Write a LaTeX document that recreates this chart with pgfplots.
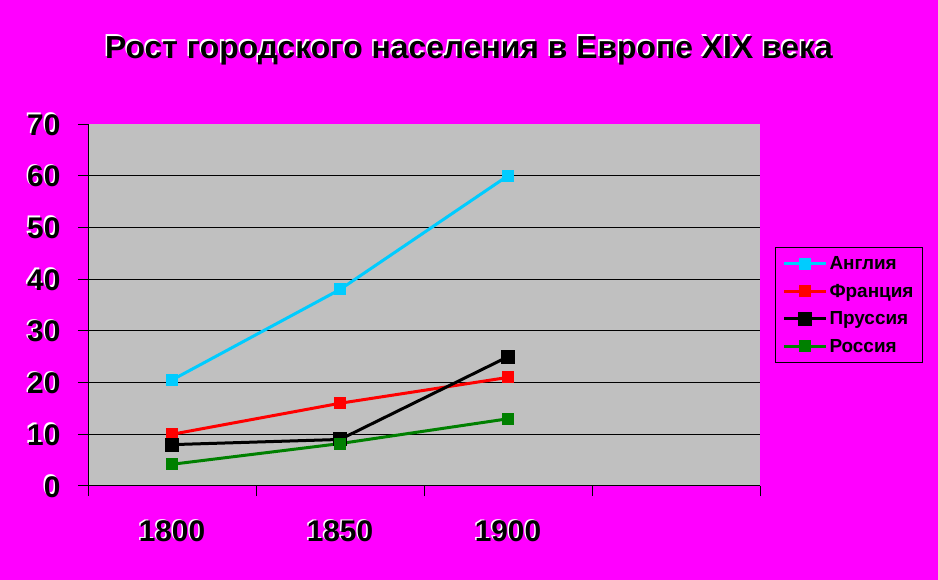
\documentclass[border=0pt]{standalone}
\usepackage{pgfplots}
\pgfplotsset{compat=1.18}
\usepackage{fontspec}
\setmainfont{Liberation Sans}
\definecolor{bg}{HTML}{FF00FF}
\definecolor{plotbg}{HTML}{C0C0C0}
\definecolor{cyanl}{HTML}{00CCFF}
\definecolor{greenl}{HTML}{008000}
\newcommand{\shd}[1]{\leavevmode\rlap{\kern-1.5bp\raisebox{1.5bp}{\color{white}#1}}#1}
\begin{document}
\begin{tikzpicture}
\fill[bg] (0,0) rectangle (938bp,580bp);
\path[use as bounding box] (0,0) rectangle (938bp,580bp);
\node[font=\fontsize{32}{36}\selectfont\bfseries] at (469bp,530bp) {\shd{Рост городского населения в Европе XIX века}};
\begin{axis}[
  at={(88bp,94bp)}, anchor=south west,
  scale only axis, width=672bp, height=362bp,
  xmin=0, xmax=4, ymin=0, ymax=70,
  axis lines*=left,
  axis line style={black, line width=1bp},
  axis background/.style={fill=plotbg},
  ytick={0,10,...,70},
  yticklabels={\shd{0},\shd{10},\shd{20},\shd{30},\shd{40},\shd{50},\shd{60},\shd{70}},
  extra y ticks={10,20,...,60},
  extra y tick labels={},
  extra y tick style={grid=major, major tick length=0pt},
  grid style={black, line width=1bp},
  tick align=outside,
  major tick length=10bp,
  tick style={black, line width=1bp},
  xtick={0,1,2,3,4},
  xticklabels={},
  extra x ticks={0.5,1.5,2.5},
  extra x tick labels={\shd{1800},\shd{1850},\shd{1900}},
  extra x tick style={major tick length=0pt},
  ticklabel style={font=\fontsize{30}{34}\selectfont\bfseries},
  xticklabel style={yshift=-30bp},
  yticklabel style={xshift=-14bp},
  legend style={at={(1,0.5)}, anchor=west, xshift=15bp, fill=bg, draw=black, line width=1bp,
    font=\fontsize{19}{22}\selectfont\bfseries, row sep=9bp, inner sep=7bp},
  legend cell align=left,
  legend image code/.code={\draw[line width=3bp, mark repeat=2,mark phase=2] plot coordinates {(0bp,0bp) (21bp,0bp) (42bp,0bp)};},
  every axis plot/.append style={line width=3bp},
]
\addplot[cyanl, mark=square*, mark size=5.5bp, mark options={line width=1bp}] coordinates {(0.5,20.5) (1.5,38) (2.5,60)};
\addlegendentry{Англия}
\addplot[red, mark=square*, mark size=5.5bp, mark options={line width=1bp}] coordinates {(0.5,10) (1.5,16) (2.5,21)};
\addlegendentry{Франция}
\addplot[black, mark=square*, mark size=6.5bp, mark options={line width=1bp}] coordinates {(0.5,8) (1.5,9) (2.5,25)};
\addlegendentry{Пруссия}
\addplot[greenl, mark=square*, mark size=5.5bp, mark options={line width=1bp}] coordinates {(0.5,4.2) (1.5,8.2) (2.5,13)};
\addlegendentry{Россия}
\end{axis}
\end{tikzpicture}
\end{document}
